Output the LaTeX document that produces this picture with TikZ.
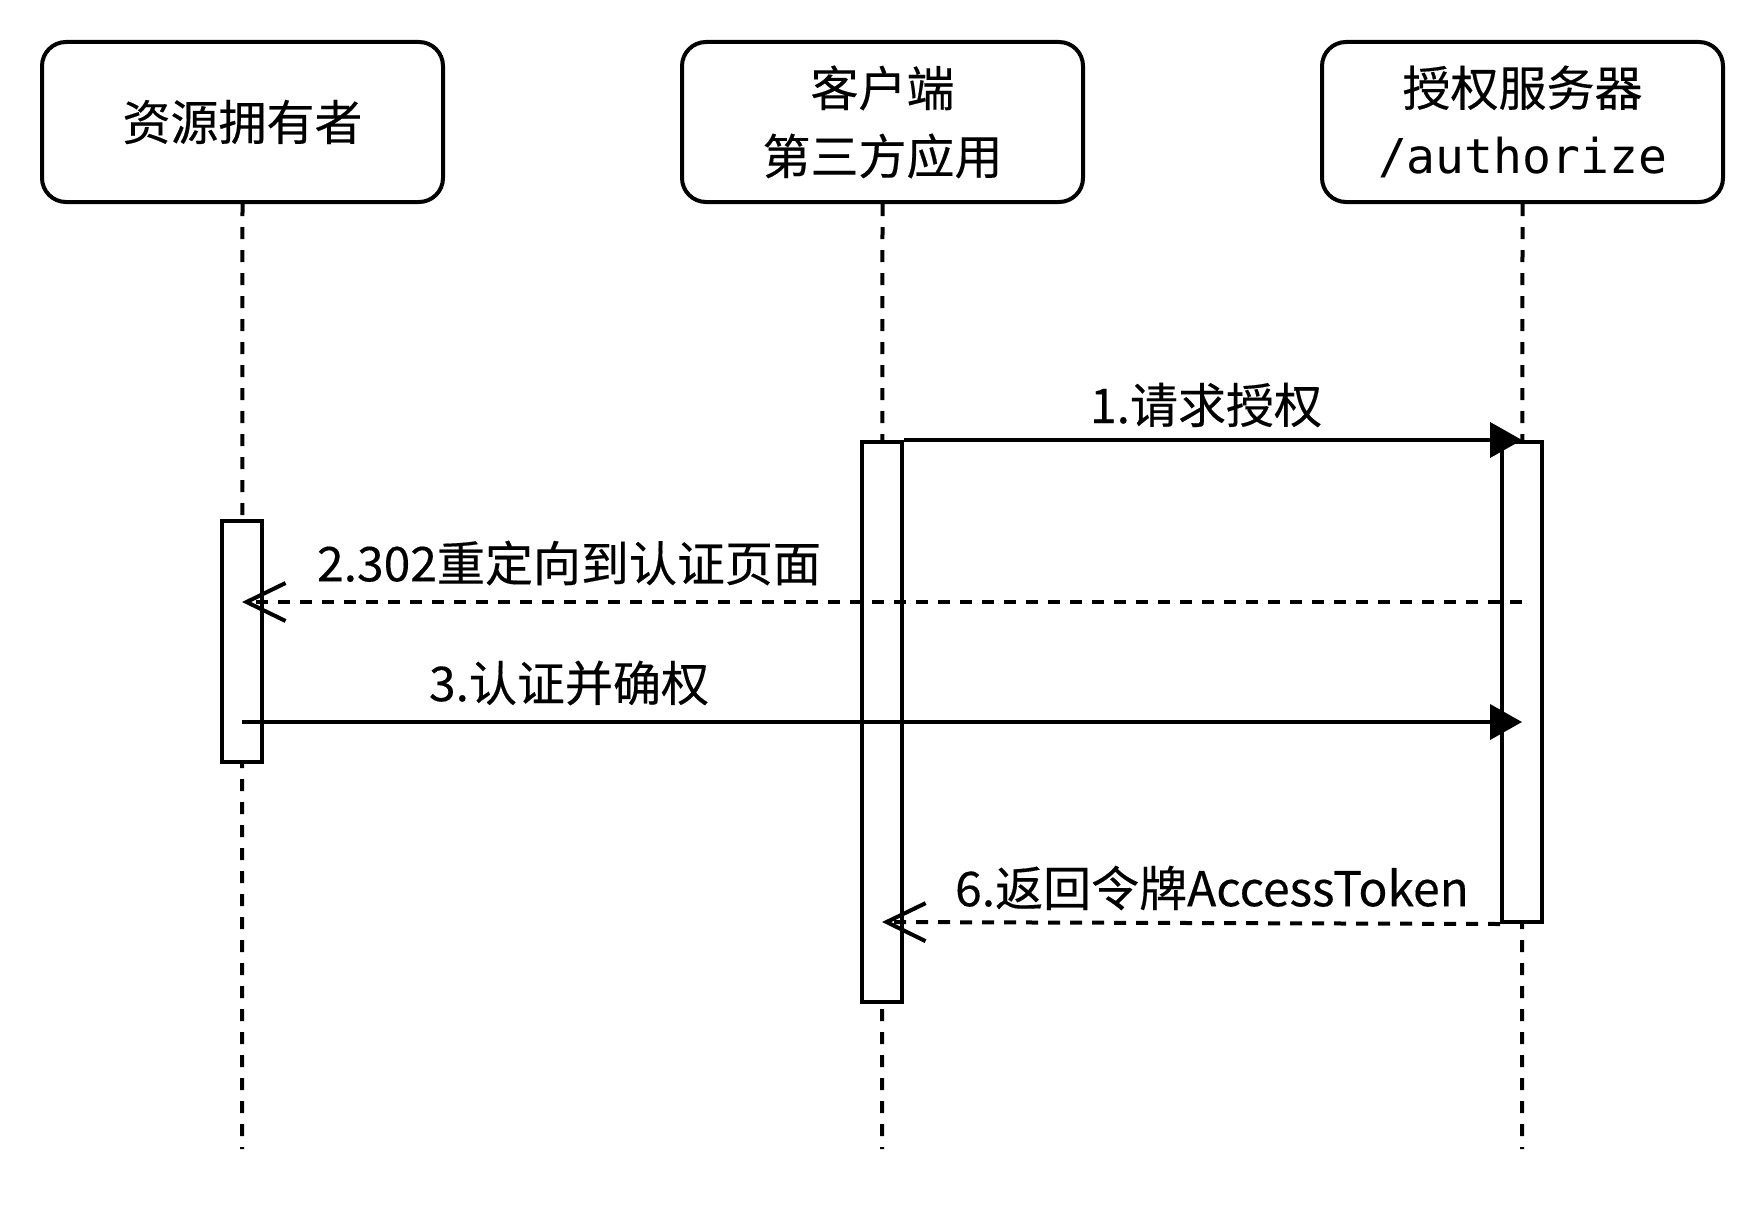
\documentclass[tikz,border=0pt]{standalone}
\usepackage{fontspec}
\setmainfont{Noto Sans CJK SC}[FakeBold=0.3]
\newfontfamily\monof{DejaVu Sans Mono}
\usetikzlibrary{arrows.meta}
\begin{document}
\begin{tikzpicture}[x=0.5pt,y=-0.5pt,
  lane/.style={draw, line width=2pt, rounded corners=12pt, minimum width=200.5pt, minimum height=80pt, align=center, font=\fontsize{24}{34}\selectfont, inner sep=0pt},
  act/.style={draw, fill=white, line width=2pt, minimum width=20pt, inner sep=0pt},
  life/.style={line width=2pt, dash pattern=on 6pt off 5.5pt},
  msg/.style={line width=2pt, -{Triangle[length=16pt,width=17.5pt]}},
  ret/.style={line width=2pt, dash pattern=on 6pt off 5pt, -{Straight Barb[length=19.5pt,width=19pt]}},
  lbl/.style={font=\fontsize{24}{28}\selectfont, inner sep=0pt}]
\fill[white] (0,0) rectangle (1764,1204);
\useasboundingbox (0,0) rectangle (1764,1204);
% participants
\node[lane] (o) at (242.5,122) {资源拥有者};
\node[lane] (c) at (882.5,122) {客户端\\第三方应用};
\node[lane] (s) at (1522.5,122) {授权服务器\\{\monof /authorize}};
% lifeline ends
\coordinate (oe) at (242,1149);
\coordinate (ce) at (882,1149);
\coordinate (se) at (1522,1149);
\draw[life] (o.south) -- (oe);
\draw[life] (c.south) -- (ce);
\draw[life] (s.south) -- (se);
% activations
\node[act, minimum height=120.5pt] (ao) at (242,641.5) {};
\node[act, minimum height=280pt] (ac) at (882,722) {};
\node[act, minimum height=240pt] (as) at (1522,682) {};
% message points
\coordinate (m2s) at (1522,602);
\coordinate (m2e) at (242,602);
\coordinate (m3s) at (242,722);
\coordinate (m3e) at (1522,722);
\coordinate (m6e) at (882,922);
% messages
\draw[msg] (ac.north east) -- (as.north);
\draw[ret] (m2s) -- (m2e);
\draw[msg] (m3s) -- (m3e);
\draw[ret] (as.south west) -- (m6e);
% labels
\node[lbl] (l1) at (1206,405) {1.请求授权};
\node[lbl] (l2) at (569,563) {2.302重定向到认证页面};
\node[lbl] (l3) at (569,683) {3.认证并确权};
\node[lbl] (l6) at (1212,888) {6.返回令牌AccessToken};
\end{tikzpicture}
\end{document}
